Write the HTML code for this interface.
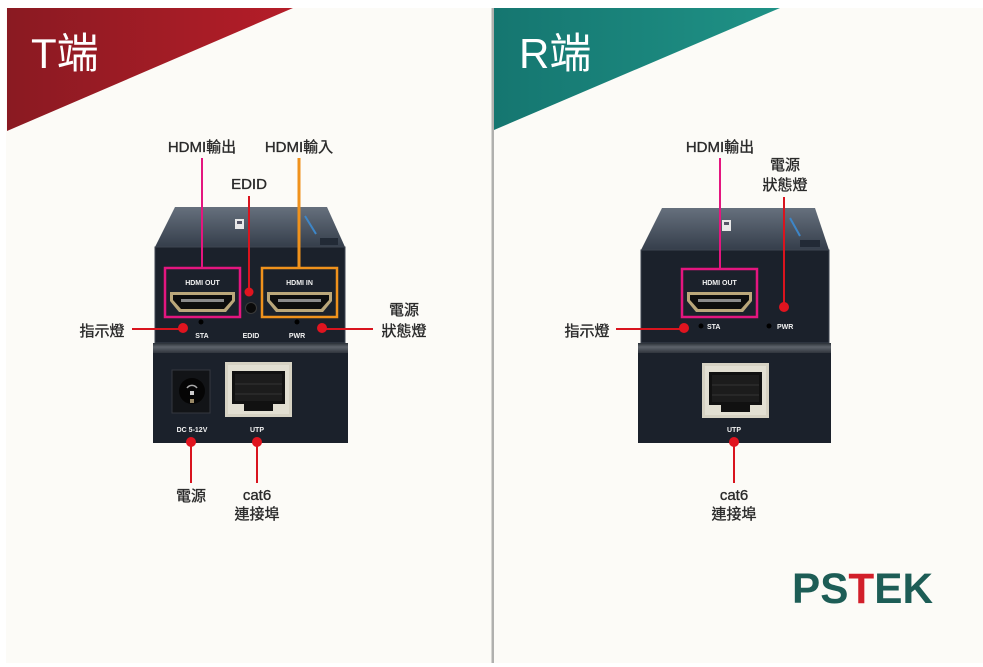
<!DOCTYPE html>
<html><head><meta charset="utf-8"><style>
html,body{margin:0;padding:0;background:#fff;}
svg{display:block;}
.lb{font-family:"Liberation Sans","Noto Sans CJK TC",sans-serif;font-size:15px;fill:#2a2a2a;stroke:#2a2a2a;stroke-width:0.35px;}
.sm{font-family:"Liberation Sans",sans-serif;font-size:7px;font-weight:bold;fill:#f2f2f2;}
.hd{font-family:"Liberation Sans","Noto Sans CJK TC",sans-serif;font-size:42px;fill:#fff;}
.logo{font-family:"Liberation Sans",sans-serif;font-size:43px;font-weight:900;}
</style></head><body>
<svg width="983" height="667" viewBox="0 0 983 667" xmlns="http://www.w3.org/2000/svg">
<defs>
<linearGradient id="rg" x1="0" x2="1" y1="0" y2="0"><stop offset="0" stop-color="#8a1a22"/><stop offset="1" stop-color="#b51d28"/></linearGradient>
<linearGradient id="tg" x1="0" x2="1" y1="0" y2="0"><stop offset="0" stop-color="#157670"/><stop offset="1" stop-color="#1f9286"/></linearGradient>
<linearGradient id="top" x1="0" x2="0" y1="0" y2="1"><stop offset="0" stop-color="#66707d"/><stop offset="1" stop-color="#353e4b"/></linearGradient>
<linearGradient id="band" x1="0" x2="0" y1="0" y2="1"><stop offset="0" stop-color="#2a2f36"/><stop offset="0.4" stop-color="#5d636b"/><stop offset="1" stop-color="#30353d"/></linearGradient>
<g id="hdmi">
<path d="M0,0 L65,0 L65,9 L56,20 L9,20 L0,9 Z" fill="#bba77a"/>
<path d="M3,3 L62,3 L62,8 L54,17 L11,17 L3,8 Z" fill="#0d0d0d"/>
<rect x="11" y="7" width="43" height="3" fill="#8a8a8a"/>
</g>
<g id="rj">
<rect x="0" y="0" width="67" height="55" fill="#d6d2c3"/>
<rect x="3" y="3" width="61" height="49" fill="#e2dfd2"/>
<path d="M7,9 L60,9 L60,42 L48,42 L48,49 L19,49 L19,42 L7,42 Z" fill="#111"/>
<rect x="10" y="12" width="47" height="27" fill="#1c1c1c"/>
<line x1="10" y1="22" x2="57" y2="22" stroke="#333" stroke-width="1"/>
<line x1="10" y1="32" x2="57" y2="32" stroke="#333" stroke-width="1"/>
</g>
</defs>
<!-- background -->
<rect x="6" y="8" width="977" height="655" fill="#fcfbf7"/>
<rect x="491.5" y="8" width="2.5" height="655" fill="#b0b0ae"/>
<!-- headers -->
<polygon points="7,8 293,8 7,131" fill="url(#rg)"/>
<polygon points="494,8 780,8 494,130" fill="url(#tg)"/>
<text class="hd" x="31" y="68">T端</text>
<text class="hd" x="519" y="68">R端</text>

<!-- ===== T device ===== -->
<polygon points="175,207 327,207 345,247 155,247" fill="url(#top)"/>
<rect x="235" y="219" width="9" height="10" fill="#e8e8e8"/>
<rect x="237" y="221" width="5" height="3" fill="#556"/>
<line x1="305" y1="216" x2="316" y2="234" stroke="#3d86c8" stroke-width="2"/>
<rect x="320" y="238" width="18" height="7" fill="#222a36"/>
<rect x="155" y="247" width="190" height="96" fill="#1b212b" stroke="#3e4550" stroke-width="1"/>
<rect x="165" y="268" width="75" height="49" fill="none" stroke="#e4167f" stroke-width="2.5"/>
<rect x="262" y="268" width="75" height="49" fill="none" stroke="#f0921c" stroke-width="2.5"/>
<text class="sm" x="202.5" y="285" text-anchor="middle">HDMI OUT</text>
<text class="sm" x="299.5" y="285" text-anchor="middle">HDMI IN</text>
<use href="#hdmi" x="170" y="292"/>
<use href="#hdmi" x="267" y="292"/>
<circle cx="251" cy="308" r="5.5" fill="#0a0a0a" stroke="#3a3a3a" stroke-width="1"/>
<circle cx="201" cy="322" r="2.5" fill="#000"/>
<circle cx="297" cy="322" r="2.5" fill="#000"/>
<text class="sm" x="202" y="338" text-anchor="middle">STA</text>
<text class="sm" x="251" y="338" text-anchor="middle">EDID</text>
<text class="sm" x="297" y="338" text-anchor="middle">PWR</text>
<!-- lower T -->
<rect x="153" y="343" width="195" height="100" fill="#1b212b"/>
<rect x="153" y="343" width="195" height="10" fill="url(#band)"/>
<rect x="172" y="370" width="38" height="43" fill="#121417" stroke="#34383f" stroke-width="1"/>
<circle cx="192" cy="391" r="13" fill="#050505"/>
<path d="M187,388 A6,6 0 0 1 197,388" fill="none" stroke="#aaa" stroke-width="1.5"/>
<rect x="190" y="391" width="4" height="4" fill="#ccc"/>
<rect x="190" y="399" width="4" height="4" fill="#998866"/>
<use href="#rj" x="225" y="362"/>
<text class="sm" x="192" y="432" text-anchor="middle">DC 5-12V</text>
<text class="sm" x="257" y="432" text-anchor="middle">UTP</text>

<!-- T connectors -->
<line x1="202" y1="158" x2="202" y2="268" stroke="#e4167f" stroke-width="2"/>
<line x1="299" y1="158" x2="299" y2="268" stroke="#f0921c" stroke-width="3"/>
<line x1="249" y1="196" x2="249" y2="292" stroke="#d9141e" stroke-width="2"/>
<circle cx="249" cy="292" r="4.5" fill="#e0141f"/>
<line x1="132" y1="329" x2="183" y2="329" stroke="#d9141e" stroke-width="2"/>
<circle cx="183" cy="328" r="5" fill="#e0141f"/>
<line x1="322" y1="329" x2="373" y2="329" stroke="#d9141e" stroke-width="2"/>
<circle cx="322" cy="328" r="5" fill="#e0141f"/>
<line x1="191" y1="442" x2="191" y2="483" stroke="#d9141e" stroke-width="2"/>
<circle cx="191" cy="442" r="5" fill="#e0141f"/>
<line x1="257" y1="442" x2="257" y2="483" stroke="#d9141e" stroke-width="2"/>
<circle cx="257" cy="442" r="5" fill="#e0141f"/>

<!-- T labels -->
<text class="lb" x="202" y="152" text-anchor="middle">HDMI輸出</text>
<text class="lb" x="299" y="152" text-anchor="middle">HDMI輸入</text>
<text class="lb" x="249" y="189" text-anchor="middle">EDID</text>
<text class="lb" x="102" y="336" text-anchor="middle">指示燈</text>
<text class="lb" x="404" y="315" text-anchor="middle">電源</text>
<text class="lb" x="404" y="336" text-anchor="middle">狀態燈</text>
<text class="lb" x="191" y="501" text-anchor="middle">電源</text>
<text class="lb" x="257" y="500" text-anchor="middle">cat6</text>
<text class="lb" x="257" y="519" text-anchor="middle">連接埠</text>

<!-- ===== R device ===== -->
<polygon points="662,208 815,208 829,250 641,250" fill="url(#top)"/>
<rect x="722" y="220" width="9" height="11" fill="#e8e8e8"/>
<rect x="724" y="222" width="5" height="3" fill="#556"/>
<line x1="790" y1="218" x2="800" y2="236" stroke="#3d86c8" stroke-width="2"/>
<rect x="800" y="240" width="20" height="7" fill="#222a36"/>
<rect x="641" y="250" width="188" height="93" fill="#1b212b" stroke="#3e4550" stroke-width="1"/>
<rect x="682" y="269" width="75" height="48" fill="none" stroke="#e4167f" stroke-width="2.5"/>
<text class="sm" x="719.5" y="285" text-anchor="middle">HDMI OUT</text>
<use href="#hdmi" x="687" y="292"/>
<circle cx="701" cy="326" r="2.5" fill="#000"/>
<circle cx="769" cy="326" r="2.5" fill="#000"/>
<text class="sm" x="707" y="329">STA</text>
<text class="sm" x="777" y="329">PWR</text>
<!-- lower R -->
<rect x="638" y="343" width="193" height="100" fill="#1b212b"/>
<rect x="638" y="343" width="193" height="10" fill="url(#band)"/>
<use href="#rj" x="702" y="363"/>
<text class="sm" x="734" y="432" text-anchor="middle">UTP</text>

<!-- R connectors -->
<line x1="720" y1="158" x2="720" y2="269" stroke="#e4167f" stroke-width="2"/>
<line x1="784" y1="197" x2="784" y2="307" stroke="#d9141e" stroke-width="2"/>
<circle cx="784" cy="307" r="5" fill="#e0141f"/>
<line x1="616" y1="329" x2="684" y2="329" stroke="#d9141e" stroke-width="2"/>
<circle cx="684" cy="328" r="5" fill="#e0141f"/>
<line x1="734" y1="442" x2="734" y2="483" stroke="#d9141e" stroke-width="2"/>
<circle cx="734" cy="442" r="5" fill="#e0141f"/>

<!-- R labels -->
<text class="lb" x="720" y="152" text-anchor="middle">HDMI輸出</text>
<text class="lb" x="785" y="170" text-anchor="middle">電源</text>
<text class="lb" x="785" y="190" text-anchor="middle">狀態燈</text>
<text class="lb" x="587" y="336" text-anchor="middle">指示燈</text>
<text class="lb" x="734" y="500" text-anchor="middle">cat6</text>
<text class="lb" x="734" y="519" text-anchor="middle">連接埠</text>

<!-- logo -->
<text class="logo" x="792" y="603" textLength="141" lengthAdjust="spacingAndGlyphs"><tspan fill="#1d5d56">PS</tspan><tspan fill="#d21f2a">T</tspan><tspan fill="#1d5d56">EK</tspan></text>
</svg>
</body></html>
